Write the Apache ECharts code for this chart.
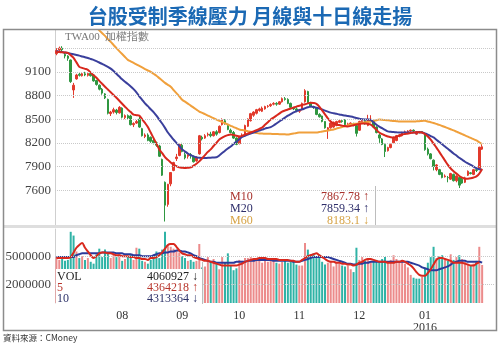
<!DOCTYPE html>
<html><head><meta charset="utf-8">
<script src="https://cdn.jsdelivr.net/npm/echarts@6/dist/echarts.min.js"></script>
<style>html,body{margin:0;padding:0;background:#fff}#c{width:500px;height:345px}</style>
</head><body><div id="c"></div>
<script>
// trading days
const jul15=[1,2,3,6,7,8,9,10,13,14,15,16,17,20,21,22,23,24,27,28,29,30,31];
const aug15=[3,4,5,6,7,10,11,12,13,14,17,18,19,20,21,24,25,26,27,28,31];
const sep15=[1,2,3,4,7,8,9,10,11,14,15,16,17,18,21,22,23,24,25,30];
const oct15=[1,2,5,6,7,8,12,13,14,15,16,19,20,21,22,23,26,27,28,29,30];
const nov15=[2,3,4,5,6,9,10,11,12,13,16,17,18,19,20,23,24,25,26,27,30];
const dec15=[1,2,3,4,7,8,9,10,11,14,15,16,17,18,21,22,23,24,25,28,29,30,31];
const jan16=[4,5,6,7,8,11,12,13,14,15,18,19,20,21,22,25,26,27,28,29,30];

const openP=[9330,9375,9400,9320,9300,9250,8870,9010,9070,9050,9075,9055,9080,9060,8990,8930,8880,8820,8750,8570,8590,8615,8580,
8640,8520,8545,8540,8430,8450,8500,8380,8280,8300,8270,8230,8200,8160,7990,7700,7420,7680,7850,8000,8040,
8170,8050,8030,8050,8020,7970,8060,8270,8260,8300,8310,8290,8340,8330,8430,8480,8430,8360,8330,8260,
8190,8280,8300,8410,8480,8550,8575,8610,8600,8630,8660,8670,8690,8700,8690,8720,8760,8750,8700,8640,8630,
8600,8620,8720,8850,8700,8660,8640,8560,8540,8470,8360,8390,8400,8420,8460,8480,8490,8430,8440,8440,8420,
8360,8470,8480,8420,8470,8480,8400,8300,8250,8180,8100,8140,8200,8230,8280,8290,8330,8340,8350,8360,8310,8340,8340,
8310,8120,8060,7980,7860,7860,7820,7770,7760,7740,7800,7720,7760,7740,7700,7790,7820,7800,7860,7870,8120];
const closeP=[9370,9400,9380,9300,9270,8976,8930,9060,9055,9075,9060,9080,9050,8985,8940,8880,8830,8770,8575,8590,8620,8585,8650,
8525,8545,8515,8430,8445,8470,8400,8290,8300,8230,8220,8200,8170,8030,7790,7410,7675,7824,7950,8020,8180,
8090,8010,8050,8040,7960,8020,8290,8250,8290,8310,8290,8340,8310,8410,8490,8440,8370,8330,8260,8180,
8280,8300,8420,8500,8570,8590,8620,8630,8640,8660,8665,8685,8700,8690,8720,8760,8750,8700,8650,8630,8610,
8620,8700,8860,8710,8660,8650,8560,8530,8470,8390,8390,8450,8460,8470,8480,8470,8430,8440,8450,8420,8320,
8470,8480,8440,8490,8500,8400,8330,8260,8180,8090,8140,8180,8260,8290,8300,8330,8340,8350,8360,8350,8340,8330,8338,
8114,8060,8000,7900,7920,7800,7760,7780,7760,7810,7720,7780,7664,7690,7756,7840,7810,7860,7850,8145,8150];
const lowP=[9310,9350,9360,9270,9240,8960,8770,9000,9040,9040,9045,9040,9040,8975,8925,8865,8810,8755,8560,8540,8570,8560,8570,
8510,8500,8500,8420,8400,8440,8390,8280,8260,8220,8200,8180,8150,8020,7780,7203,7390,7650,7840,7970,8030,
8080,7990,8000,8000,7950,7960,8050,8230,8250,8280,8270,8280,8290,8320,8420,8430,8360,8320,8250,8170,
8180,8270,8290,8400,8470,8530,8560,8595,8590,8620,8645,8655,8675,8670,8680,8710,8735,8690,8640,8615,8600,
8580,8610,8710,8700,8650,8630,8550,8520,8460,8380,8250,8380,8390,8410,8450,8455,8420,8420,8430,8410,8280,
8350,8460,8430,8410,8460,8390,8320,8200,8170,8020,8090,8130,8195,8220,8270,8280,8320,8330,8340,8335,8300,8320,8325,
8100,8040,7990,7850,7840,7790,7750,7760,7700,7730,7710,7700,7627,7680,7690,7780,7800,7790,7830,7860,8110];
const highP=[9400,9420,9425,9340,9310,9255,8960,9075,9090,9085,9100,9090,9095,9070,9000,8940,8895,8830,8760,8605,8645,8630,8665,
8650,8560,8560,8555,8460,8490,8530,8390,8320,8320,8280,8250,8215,8175,8000,7710,7680,7830,7960,8060,8190,
8200,8080,8070,8070,8040,8030,8300,8290,8310,8330,8340,8350,8360,8420,8510,8500,8440,8380,8350,8270,
8290,8320,8430,8510,8580,8600,8630,8645,8660,8670,8680,8700,8715,8715,8730,8775,8780,8765,8710,8655,8650,
8630,8710,8880,8860,8720,8670,8645,8575,8545,8475,8400,8460,8470,8480,8490,8495,8500,8455,8460,8455,8430,
8480,8500,8490,8555,8550,8490,8410,8320,8260,8190,8150,8190,8280,8300,8310,8340,8355,8360,8370,8370,8350,8350,8350,
8320,8140,8070,7990,7930,7870,7830,7800,7780,7820,7810,7790,7770,7760,7770,7850,7830,7870,7870,8150,8190];
const prevClose=9323;

const ma10=[9352,9350,9348,9345,9340,9310,9277,9220,9163,9150,9138,9125,9090,9057,9024,8986,8948,8911,8876,8841,8806,8772,8734,
8696,8658,8621,8590,8558,8550,8545,8500,8453,8400,8330,8260,8190,8117,8070,8020,7985,7952,7925,7905,7889,
7885,7882,7885,7889,7910,7935,7965,8005,8045,8085,8117,8160,8200,8243,8265,8285,8298,8306,8300,8290,
8280,8290,8305,8318,8331,8345,8360,8377,8394,8428,8462,8495,8520,8545,8570,8596,8610,8622,8635,8647,8659,
8669,8679,8690,8700,8709,8705,8695,8660,8610,8560,8510,8470,8445,8432,8425,8418,8412,8406,8415,8424,8432,
8440,8445,8445,8440,8432,8400,8365,8331,8310,8295,8280,8272,8268,8280,8293,8306,8312,8318,8325,8331,8333,8335,8331,
8310,8280,8240,8190,8140,8085,8030,7975,7920,7875,7840,7810,7780,7760,7745,7745,7750,7760,7775,7810,7868];
const ma20=[9360,9355,9350,9345,9338,9330,9322,9314,9305,9295,9285,9275,9263,9251,9235,9218,9200,9182,9163,9140,9110,9075,9040,
9005,8975,8945,8915,8880,8840,8790,8745,8700,8665,8625,8590,8545,8495,8445,8390,8331,8285,8240,8200,8160,
8117,8090,8065,8045,8028,8016,8010,8008,8008,8010,8012,8014,8016,8040,8070,8100,8128,8154,8185,8215,
8245,8275,8290,8305,8318,8330,8343,8355,8367,8380,8390,8400,8420,8445,8470,8495,8520,8545,8565,8585,8600,
8615,8625,8638,8650,8659,8655,8645,8635,8622,8608,8595,8583,8575,8568,8560,8553,8546,8540,8533,8525,8515,
8505,8500,8497,8495,8490,8460,8430,8405,8385,8365,8345,8340,8336,8333,8331,8331,8331,8331,8331,8331,8333,8335,8331,
8318,8303,8286,8268,8240,8210,8182,8154,8125,8095,8065,8040,8010,7985,7960,7940,7920,7900,7880,7865,7859];
const ma60=[9860,9850,9840,9830,9820,9810,9800,9790,9780,9770,9750,9730,9710,9690,9665,9625,9590,9555,9515,9480,9440,9400,9362,
9325,9288,9251,9232,9213,9195,9175,9155,9135,9117,9100,9075,9050,9020,8990,8960,8935,8911,8870,8830,8790,
8747,8722,8697,8672,8646,8621,8596,8580,8563,8546,8529,8512,8495,8480,8464,8448,8432,8416,8400,8385,
8369,8362,8355,8348,8340,8333,8325,8318,8317,8316,8315,8314,8312,8311,8310,8309,8308,8306,8312,8318,8324,
8331,8331,8331,8331,8331,8331,8331,8337,8343,8350,8356,8363,8369,8380,8390,8400,8411,8421,8432,8438,8443,
8449,8454,8460,8465,8470,8478,8487,8495,8492,8488,8485,8481,8477,8474,8470,8470,8470,8470,8470,8470,8472,8475,8477,
8480,8470,8462,8452,8440,8428,8414,8400,8386,8372,8358,8342,8326,8310,8294,8278,8262,8246,8230,8207,8183];

// volume, millions
const vol=[4.9,4.6,4.7,4.5,4.6,7.6,7.2,5.5,4.8,5.0,4.6,4.8,4.4,4.2,5.2,5.8,4.9,5.7,5.3,4.8,5.4,4.9,5.3,
4.5,4.7,5.0,5.2,4.6,5.9,5.8,4.5,4.4,4.2,4.6,5.1,5.5,4.8,5.7,7.6,6.2,6.0,5.8,5.6,5.4,
5.0,4.8,4.5,4.6,4.4,4.5,6.3,3.8,3.9,4.9,4.4,4.7,4.2,3.6,4.9,4.3,5.3,4.0,3.5,3.7,
4.6,4.5,4.8,4.8,4.9,4.7,4.6,4.5,4.3,4.9,4.4,4.6,4.5,4.3,4.2,4.4,4.5,4.3,4.4,4.4,4.1,
4.0,4.0,6.4,5.7,5.2,5.3,5.0,5.2,4.4,4.1,4.3,4.5,3.9,4.4,4.2,4.0,3.9,4.0,3.6,3.3,5.9,
4.6,4.9,4.5,4.6,4.4,4.5,4.6,4.4,4.7,4.9,4.4,4.6,5.1,4.7,4.4,4.6,4.2,3.8,3.0,2.7,2.6,2.6,2.8,
3.8,4.3,4.9,6.0,4.8,5.0,5.1,4.7,4.5,5.2,4.6,4.9,5.1,4.7,4.4,4.2,4.0,4.2,4.5,6.0,4.06];
const volMa5=[4.8,4.8,4.8,4.8,4.8,4.9,5.4,5.9,6.2,6.4,5.9,5.5,5.1,4.8,5.0,5.3,5.4,5.4,5.3,5.3,5.2,5.1,5.1,
5.0,5.0,5.0,4.9,4.9,4.8,4.8,4.7,4.7,4.6,4.8,4.8,4.9,5.1,5.4,5.8,6.2,6.3,6.3,6.0,5.6,
5.3,5.2,5.1,5.1,4.9,4.8,4.7,4.6,4.5,4.5,4.4,4.3,4.2,4.1,4.0,4.0,4.0,4.0,4.0,4.0,
4.1,4.2,4.4,4.5,4.6,4.7,4.7,4.8,4.8,4.8,4.7,4.7,4.7,4.7,4.6,4.6,4.6,4.6,4.5,4.5,4.4,
4.4,4.6,4.8,5.0,5.1,5.2,5.3,5.1,4.9,4.7,4.5,4.4,4.4,4.3,4.3,4.2,4.2,4.1,4.1,4.0,4.1,
4.3,4.4,4.6,4.7,4.7,4.6,4.5,4.4,4.4,4.4,4.3,4.3,4.3,4.4,4.4,4.5,4.4,4.2,4.0,3.7,3.3,3.0,2.9,
2.9,3.2,3.6,4.1,4.6,4.8,4.8,4.7,4.6,4.5,4.3,4.3,4.3,4.3,4.2,4.1,4.0,4.0,4.2,4.364];
const volMa10=[4.9,4.9,4.9,4.9,4.9,4.9,4.9,5.1,5.2,5.3,5.3,5.3,5.3,5.3,5.3,5.3,5.4,5.4,5.4,5.4,5.4,5.3,5.3,
5.3,5.2,5.2,5.2,5.1,5.1,5.1,5.0,5.0,5.0,5.0,5.1,5.2,5.3,5.3,5.4,5.4,5.5,5.5,5.6,5.6,
5.5,5.5,5.4,5.3,5.1,5.0,4.8,4.7,4.6,4.5,4.4,4.4,4.3,4.3,4.3,4.3,4.3,4.3,4.3,4.4,
4.4,4.4,4.4,4.5,4.5,4.5,4.6,4.6,4.6,4.6,4.6,4.6,4.5,4.5,4.5,4.5,4.5,4.5,4.5,4.4,4.4,
4.4,4.5,4.6,4.7,4.8,4.9,4.9,4.9,4.9,4.9,4.9,4.8,4.7,4.6,4.5,4.4,4.3,4.2,4.2,4.1,4.1,
4.2,4.2,4.3,4.3,4.4,4.4,4.4,4.4,4.4,4.4,4.4,4.4,4.4,4.4,4.4,4.4,4.4,4.4,4.3,4.2,4.1,4.0,3.8,
3.7,3.6,3.5,3.5,3.5,3.6,3.7,3.8,3.9,4.1,4.3,4.4,4.5,4.5,4.5,4.4,4.4,4.4,4.4,4.4,4.313];

const priceTicks=[7600,7900,8200,8500,8800,9100];
const priceGrid=[7600,7900,8200,8500,8800,9100,9400];
const volTicks=[2,5];

const legendMain=[['M10','7867.78 ↑','#a8322c'],['M20','7859.34 ↑','#2e2e6a'],['M60','8183.1 ↓','#d6a243']];
const legendVol=[['VOL','4060927 ↓','#222'],['5','4364218 ↑','#b8362c'],['10','4313364 ↓','#2c3168']];

// build categories
const months=[['2015',7,jul15],['2015',8,aug15],['2015',9,sep15],['2015',10,oct15],['2015',11,nov15],['2015',12,dec15],['2016',1,jan16]];
const dates=[];const monthStart={};
months.forEach(([y,m,days])=>{
  const mm=(m<10?'0':'')+m;
  if(dates.length>0) monthStart[dates.length]= m===1 ? mm+'\n'+y : mm;
  days.forEach(d=>dates.push(y+'-'+mm+'-'+(d<10?'0':'')+d));
});
const candles=openP.map((o,i)=>[o,closeP[i],lowP[i],highP[i]]);
const UP='#e23a2c',DOWN='#2f9740',VUP='#ec8b8b',VDOWN='#2fb3a6';
const volData=vol.map((v,i)=>{
  const pc=i?closeP[i-1]:prevClose;
  return {value:v,itemStyle:{color:closeP[i]>=pc?VUP:VDOWN}};
});
const serifF='Liberation Serif';
const serif='"Liberation Serif","DejaVu Serif",serif';
const cjk='"Noto Sans CJK TC","Noto Sans CJK SC",sans-serif';

const chart=echarts.init(document.getElementById('c'),null,{renderer:'canvas'});
const gridLine={color:'#c9c9c9',type:'dotted',width:1};
const graphics=[
  {type:'text',x:250,y:16,z:100,style:{text:'台股受制季線壓力 月線與十日線走揚',font:'700 20px '+cjk,fill:'#1b69b4',align:'center',verticalAlign:'middle'}},
  {type:'rect',z:100,shape:{x:3,y:225,width:494,height:3},style:{fill:'#dedede'}},
  {type:'rect',z:100,shape:{x:3.5,y:29.5,width:493,height:301},style:{fill:'none',stroke:'#8c8c8c',lineWidth:1.5}},
  {type:'text',x:65,y:37,z:100,style:{text:'TWA00  加權指數',font:'11px '+serif,fill:'#777',verticalAlign:'middle'}},
  {type:'rect',z:99,shape:{x:228,y:191,width:147,height:34},style:{fill:'#fff'}},
  {type:'line',z:100,shape:{x1:375.5,y1:186,x2:375.5,y2:225},style:{stroke:'#bdbdbd',lineWidth:1}},
  {type:'rect',z:99,shape:{x:56,y:269,width:146,height:35},style:{fill:'#fff'}},
  {type:'line',z:100,shape:{x1:202.5,y1:262,x2:202.5,y2:304},style:{stroke:'#bdbdbd',lineWidth:1}},
  {type:'text',x:3,y:338,z:100,style:{text:'資料來源：CMoney',font:'8.5px '+cjk,fill:'#333',verticalAlign:'middle'}}
];
legendMain.forEach((r,k)=>{
  const y=197+k*12;
  graphics.push({type:'text',x:230,y:y,z:101,style:{text:r[0],font:'12px '+serif,fill:r[2],verticalAlign:'middle'}});
  graphics.push({type:'text',x:369,y:y,z:101,style:{text:r[1],font:'12px '+serif,fill:r[2],align:'right',verticalAlign:'middle'}});
});
legendVol.forEach((r,k)=>{
  const y=277+k*11;
  graphics.push({type:'text',x:57,y:y,z:101,style:{text:r[0],font:'12px '+serif,fill:r[2],verticalAlign:'middle'}});
  graphics.push({type:'text',x:198,y:y,z:101,style:{text:r[1],font:'12px '+serif,fill:r[2],align:'right',verticalAlign:'middle'}});
});

const maLine=(name,data,color,xi,yi)=>({name,type:'line',xAxisIndex:xi,yAxisIndex:yi,data,symbol:'none',smooth:0.3,
  lineStyle:{color,width:2},itemStyle:{color},z:3,clip:true});

chart.setOption({
  animation:false,
  backgroundColor:'#fff',
  grid:[{left:55,top:30,width:440,height:196},{left:55,top:229,width:440,height:74}],
  xAxis:[
    {type:'category',gridIndex:0,data:dates,max:153,boundaryGap:true,axisLine:{show:false},axisTick:{show:false},axisLabel:{show:false},splitLine:{show:false}},
    {type:'category',gridIndex:1,data:dates,max:153,boundaryGap:true,axisLine:{show:false},axisTick:{show:false},splitLine:{show:false},
     axisLabel:{interval:(i)=>monthStart[i]!==undefined,formatter:(v,i)=>monthStart[i]||'',color:'#333',fontFamily:serifF,fontSize:12,lineHeight:12,margin:7}}
  ],
  yAxis:[
    {type:'value',gridIndex:0,min:7146,max:9630,axisLine:{show:true,lineStyle:{color:'#cfcfcf'}},axisTick:{show:false},splitLine:{show:false},
     axisLabel:{customValues:priceTicks,formatter:(v)=>String(v),color:'#444',fontFamily:serifF,fontSize:13,margin:4}},
    {type:'value',gridIndex:1,min:0,max:7.9,axisLine:{show:true,lineStyle:{color:'#cfcfcf'}},axisTick:{show:false},splitLine:{show:false},
     axisLabel:{customValues:volTicks,formatter:(v)=>String(Math.round(v*1000000)),color:'#444',fontFamily:serifF,fontSize:13,margin:4}}
  ],
  graphic:graphics,
  series:[
    {type:'line',xAxisIndex:0,yAxisIndex:0,data:[],z:1,silent:true,
     markLine:{silent:true,symbol:['none','none'],label:{show:false},lineStyle:gridLine,data:priceGrid.map(v=>({yAxis:v}))}},
    {type:'line',xAxisIndex:1,yAxisIndex:1,data:[],z:1,silent:true,
     markLine:{silent:true,symbol:['none','none'],label:{show:false},lineStyle:gridLine,data:volTicks.map(v=>({yAxis:v}))}},
    {type:'candlestick',xAxisIndex:0,yAxisIndex:0,data:candles,barWidth:2,z:2,
     itemStyle:{color:UP,color0:DOWN,borderColor:UP,borderColor0:DOWN,borderWidth:1}},
    maLine('M60',ma60,'#f0a03c',0,0),
    maLine('M20',ma20,'#3a3f9c',0,0),
    maLine('M10',ma10,'#d8281d',0,0),
    {type:'bar',xAxisIndex:1,yAxisIndex:1,data:volData,barWidth:2,z:2},
    maLine('V10',volMa10,'#2b3a9a',1,1),
    maLine('V5',volMa5,'#d8281d',1,1)
  ]
});
</script></body></html>
